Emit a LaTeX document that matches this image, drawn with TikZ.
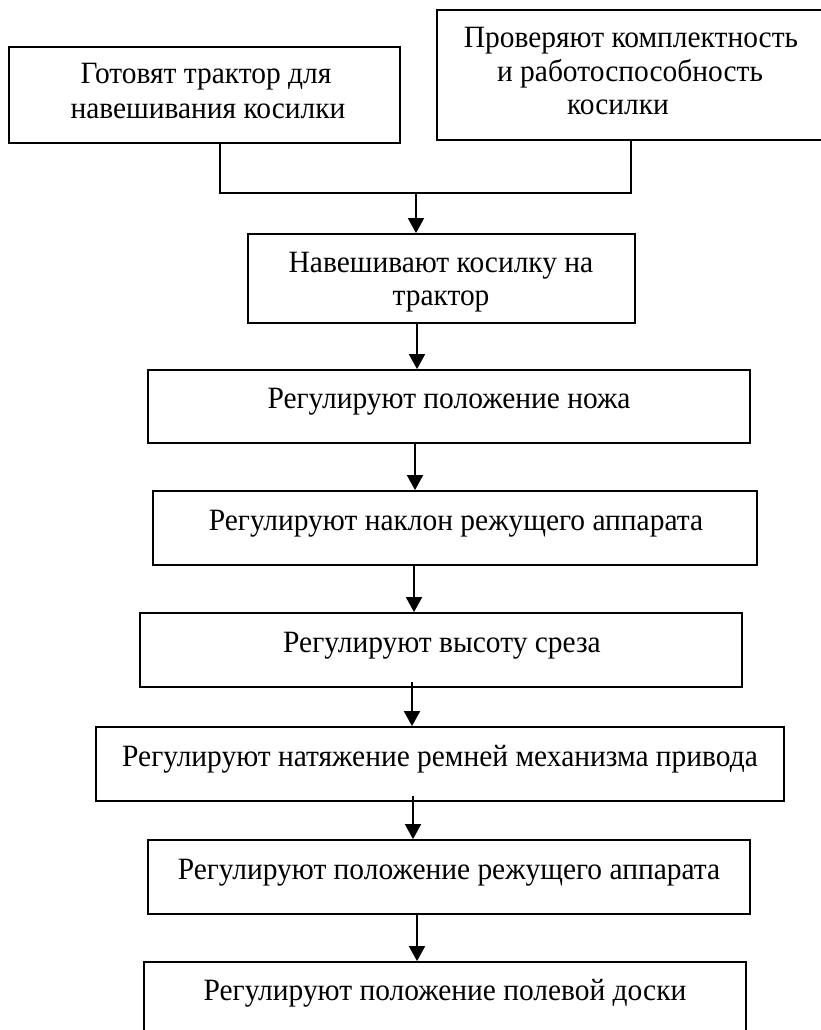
\documentclass[tikz,border=0pt]{standalone}
\usepackage{fontspec}
\setmainfont{Liberation Serif}[FakeStretch=0.95]
\usetikzlibrary{arrows.meta,calc}
\tikzset{
  box/.style={draw=black, line width=1.8pt, rectangle, inner sep=0pt, fill=white},
  txt/.style={anchor=base, inner sep=0pt, font=\fontsize{31}{34}\selectfont},
  conn/.style={draw=black, line width=1.8pt},
  arr/.style={conn, -{Triangle[width=16pt,length=15pt]}}
}
\begin{document}
\begin{tikzpicture}[x=1pt,y=-1pt]
\useasboundingbox (0,0) rectangle (821,1030);
\clip (0,0) rectangle (821,1030);
% boxes
\node[box, minimum width=391pt, minimum height=96pt] (b1) at (204.5,95) {};
\node[box, minimum width=389pt, minimum height=130pt] (b2) at (631.5,75) {};
\node[box, minimum width=387pt, minimum height=89pt] (b3) at (441.5,278.5) {};
\node[box, minimum width=602pt, minimum height=73pt] (b4) at (449,406.5) {};
\node[box, minimum width=604pt, minimum height=74pt] (b5) at (455,528) {};
\node[box, minimum width=602pt, minimum height=74pt] (b6) at (441,650) {};
\node[box, minimum width=688pt, minimum height=74pt] (b7) at (440,764) {};
\node[box, minimum width=602pt, minimum height=74pt] (b8) at (449,877) {};
\node[box, minimum width=602pt, minimum height=78pt] (b9) at (445,1001) {};
% texts
\node[txt] (t1a) at (206,84) {Готовят трактор для};
\node[txt] (t1b) at (208,118) {навешивания косилки};
\node[txt] (t2a) at (631,48) {Проверяют комплектность};
\node[txt] (t2b) at (630,82) {и работоспособность};
\node[txt] (t2c) at (618,115) {косилки};
\node[txt] (t3a) at (441,272) {Навешивают косилку на};
\node[txt] (t3b) at (441,305) {трактор};
\node[txt] (t4) at (449,408) {Регулируют положение ножа};
\node[txt] (t5) at (456,530) {Регулируют наклон режущего аппарата};
\node[txt] (t6) at (442,652) {Регулируют высоту среза};
\node[txt] (t7) at (440,766) {Регулируют натяжение ремней механизма привода};
\node[txt] (t8) at (449,879) {Регулируют положение режущего аппарата};
\node[txt] (t9) at (445,1000) {Регулируют положение полевой доски};
% connector coordinates
\coordinate (l1) at (220,193);
\coordinate (r1) at (631,193);
\coordinate (j) at (416,193);
\coordinate (x3) at (417,0);
\coordinate (x4) at (415,0);
\coordinate (x5) at (414,0);
\coordinate (x6) at (412,0);
\coordinate (x7) at (413,0);
\coordinate (x8) at (417,0);
% connectors
\draw[conn] (l1 |- b1.south) -- (l1) -- (r1) -- (r1 |- b2.south);
\draw[arr] (j) -- (j |- b3.north);
\draw[arr] (x3 |- b3.south) -- (x3 |- b4.north);
\draw[arr] (x4 |- b4.south) -- (x4 |- b5.north);
\draw[arr] (x5 |- b5.south) -- (x5 |- b6.north);
\draw[arr] ($(x6 |- b6.south)+(0,-6)$) -- (x6 |- b7.north);
\draw[arr] ($(x7 |- b7.south)+(0,-6)$) -- (x7 |- b8.north);
\draw[arr] (x8 |- b8.south) -- (x8 |- b9.north);
\end{tikzpicture}
\end{document}
